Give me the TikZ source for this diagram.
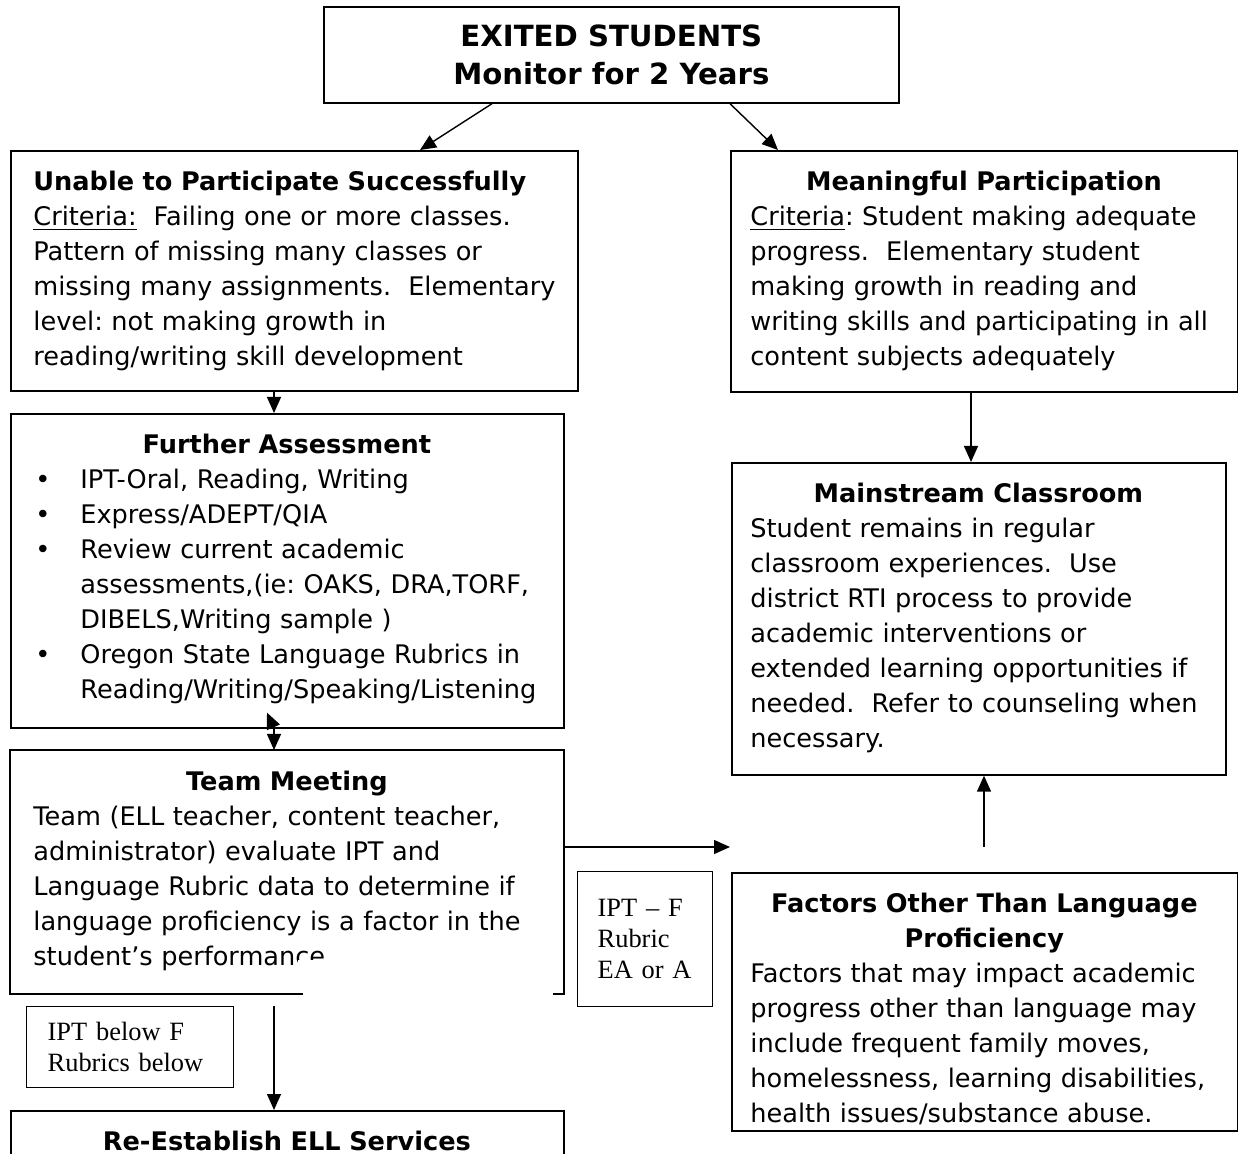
\documentclass[tikz,border=0pt]{standalone}
\usepackage{fontspec}
\setmainfont{DejaVu Sans}
\newfontfamily\tnr{Liberation Serif}
\usetikzlibrary{arrows.meta}
\setlength{\parindent}{0pt}
\frenchspacing
\hyphenpenalty=10000
\exhyphenpenalty=10000
\newcommand\fabul{\makebox[22.5pt][l]{\textbullet}}
\newcommand\faind{\hspace*{22.5pt}}
\begin{document}
\begin{tikzpicture}[x=0.5pt,y=-0.5pt,
  box/.style={draw, line width=0.85pt, inner sep=0pt, anchor=north west},
  txt/.style={anchor=north west, inner sep=0pt, align=left, font=\fontsize{12.8}{17.5}\selectfont},
  small/.style={box, line width=0.7pt, align=left, font=\tnr\fontsize{13.2}{15.5}\selectfont},
  arr/.style={line width=0.7pt, -{Triangle[length=8pt,width=7pt]}}]

\useasboundingbox (0,0) rectangle (1238,1154);
\clip (0,0) rectangle (1238,1154);

% top
\node[box, minimum width=287.5pt, minimum height=48pt, align=center,
      font=\bfseries\fontsize{14.6}{19}\selectfont] (top) at (323,6)
      {EXITED STUDENTS\\Monitor for 2 Years};

% left column
\node[box, minimum width=283.5pt, minimum height=120pt] (unable) at (10,150) {};
\node[txt, text width=280pt] (unableT) at (33,171)
  {\textbf{Unable to Participate Successfully}\\
   \underline{Criteria:}~ Failing one or more classes.\\
   Pattern of missing many classes or\\
   missing many assignments.~ Elementary\\
   level: not making growth in\\
   reading/writing skill development};

\node[box, minimum width=276.5pt, minimum height=157pt] (further) at (10,413) {};
\node[txt, text width=251.5pt] (furtherT) at (35,434)
  {{\centering\bfseries Further Assessment\par}
   \fabul IPT-Oral, Reading, Writing\\
   \fabul Express/ADEPT/QIA\\
   \fabul Review current academic\\
   \faind assessments,(ie: OAKS, DRA,TORF,\\
   \faind DIBELS,Writing sample )\\
   \fabul Oregon State Language Rubrics in\\
   \faind Reading/Writing/Speaking/Listening};

\node[anchor=north west, inner sep=0pt, minimum width=276.5pt, minimum height=121.5pt] (team) at (10,750) {};
\draw[line width=0.85pt] ([xshift=146.5pt]team.south west) -- (team.south west) -- (team.north west)
   -- (team.north east) -- (team.south east) -- ++(-11,0);
\node[txt, text width=253.5pt] (teamT) at (33,771)
  {{\centering\bfseries Team Meeting\par}
   Team (ELL teacher, content teacher,\\
   administrator) evaluate IPT and\\
   Language Rubric data to determine if\\
   language proficiency is a factor in the\\
   student's performance.};
\fill[white] (298,960) rectangle (552,990);

\node[small, minimum width=103.5pt, minimum height=40.5pt, inner xsep=10.5pt, text width=82.5pt] (iptb) at (26,1006)
  {IPT below F\\ Rubrics below};

\node[box, minimum width=276.5pt, minimum height=100pt] (reest) at (10,1110) {};
\node[txt, text width=253.5pt, align=center] (reestT) at (33,1131)
  {\bfseries Re-Establish ELL Services};

% middle small box
\node[small, minimum width=67.5pt, minimum height=67.5pt, inner xsep=10pt, text width=47.5pt] (iptf) at (577,871)
  {IPT – F\\ Rubric\\ EA or A};

% right column
\node[box, minimum width=253.5pt, minimum height=120.5pt] (meaning) at (730,150) {};
\node[txt, text width=233.5pt] (meaningT) at (750,171)
  {{\centering\bfseries Meaningful Participation\par}
   \underline{Criteria}: Student making adequate\\
   progress.~ Elementary student\\
   making growth in reading and\\
   writing skills and participating in all\\
   content subjects adequately};

\node[box, minimum width=247pt, minimum height=156pt] (main) at (731,462) {};
\node[txt, text width=228pt] (mainT) at (750,483)
  {{\centering\bfseries Mainstream Classroom\par}
   Student remains in regular\\
   classroom experiences.~ Use\\
   district RTI process to provide\\
   academic interventions or\\
   extended learning opportunities if\\
   needed.~ Refer to counseling when\\
   necessary.};

\node[box, minimum width=253pt, minimum height=129pt] (factors) at (731,872) {};
\node[txt, text width=234pt] (factorsT) at (750,893)
  {{\centering\bfseries Factors Other Than Language\\ Proficiency\par}
   Factors that may impact academic\\
   progress other than language may\\
   include frequent family moves,\\
   homelessness, learning disabilities,\\
   health issues/substance abuse.};

% connectors
\coordinate (cL) at (274,0);
\coordinate (cR) at (971,0);
\coordinate (hend) at (730,847);
\coordinate (fstart) at (984,847);
\coordinate (tstart) at (274,1006);

\draw[arr] ([xshift=84.5pt]top.south west) -- ([xshift=205pt]unable.north west);
\draw[arr] ([xshift=203.5pt]top.south west) -- ([xshift=24pt]meaning.north west);
\draw[arr] (unable.south -| cL) -- (further.north -| cL);
\draw[arr] (further.south -| cL) -- ++(-7,-16);
\draw[arr] (further.south -| cL) -- (team.north -| cL);
\draw[arr] (team.east |- hend) -- (hend);
\draw[arr] (fstart) -- (main.south -| fstart);
\draw[arr] (meaning.south -| cR) -- (main.north -| cR);
\draw[arr] (tstart) -- (reest.north -| tstart);
\end{tikzpicture}
\end{document}
